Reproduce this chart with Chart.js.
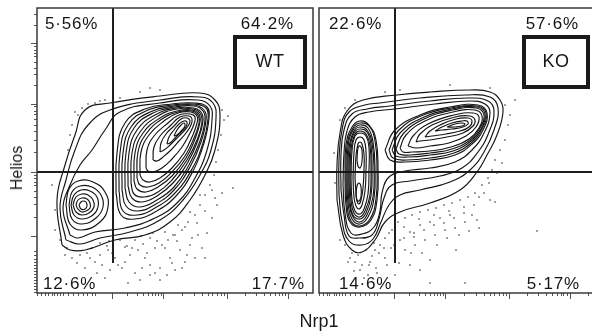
<!DOCTYPE html>
<html><head><meta charset="utf-8">
<script src="https://cdn.jsdelivr.net/npm/chart.js@4.4.1/dist/chart.umd.min.js"></script>
<style>
html,body{margin:0;padding:0;background:#fff;overflow:hidden;width:592px;height:333px;position:relative;}
#c1{position:absolute;left:0;top:0;}
#c2{position:absolute;left:316px;top:0;}
.lbl{position:absolute;font-family:"Liberation Sans",Arial,sans-serif;color:#1a1a1a;white-space:nowrap;line-height:1;}
</style></head><body>
<canvas id="c1" width="316" height="333"></canvas>
<canvas id="c2" width="282" height="333"></canvas>
<div class="lbl" id="ylab" style="left:17px;top:168px;font-size:16px;transform:translate(-50%,-50%) rotate(-90deg);"></div>
<div class="lbl" id="xlab" style="left:319px;top:321px;font-size:18px;transform:translate(-50%,-50%);"></div>
<script>
// ---- axis ranges (channel units) and gates ----
const xRange = [0, 276];
const yRange = [0, 285];
const gateX = 76, gateY = 121, gateXLow = 30;
const axisTitles = ['Nrp1', 'Helios'];

// ---- tick positions (channel units) ----
const xMinorTicks = [0,4,8,11,15,17,20,23,26,31,36,41,46,50,55,58,90,100,106,111,115,118,121,124,145,157,165,171,176,180,184,187,208,219,227,233,238,242,245,248,269];
const xMajorTicks = [75,126,190,251];
const yMinorTicks = [1,4,7,10,13,16,19,22,25,28,31,34,38,42,76,88,96,102,107,111,115,118,141,153,162,168,174,178,182,186,207,218,225,231,236,240,243,246,267,278];
const yMajorTicks = [57,121,189,249];

// ---- quadrant percentages and sample names ----
const wtPercents = ['5·56%','64·2%','12·6%','17·7%'];
const koPercents = ['22·6%','57·6%','14·6%','5·17%'];
const sampleNames = ['WT','KO'];

// ---- WT contour levels (Nrp1, Helios) ----
const wtContours = [
 [[25,48],[20,93],[28,128],[38,158],[48,183],[73,190],[123,197],[163,200],[178,193],[183,178],[178,143],[168,118],[153,93],[133,71],[108,58],[78,53],[48,43],[33,43]],
 [[29,53],[23,85],[29,113],[38,143],[51,168],[73,183],[123,193],[163,196],[176,190],[179,175],[174,143],[163,118],[146,93],[123,73],[93,61],[63,55],[43,49]],
 [[33,58],[26,85],[33,108],[43,128],[55,143],[68,163],[83,181],[123,190],[161,193],[173,187],[175,173],[170,143],[158,115],[141,91],[118,75],[88,65],[58,61],[41,55]],
 [[29,88],[32,104],[41,112],[56,111],[68,101],[71,86],[63,71],[45,63],[33,69]],
 [[32,88],[35,101],[43,107],[55,106],[64,98],[66,86],[59,75],[45,69],[35,74]],
 [[34,88],[37,98],[44,103],[53,102],[60,96],[61,86],[56,78],[45,74],[37,78]],
 [[36,88],[39,96],[45,99],[51,98],[56,93],[57,86],[52,80],[45,78],[39,81]],
 [[39,88],[41,93],[45,95],[50,94],[53,90],[53,85],[49,82],[45,81],[41,84]],
 [[42,88],[44,91],[46,92],[49,91],[50,87],[48,84],[44,84]],
 [[79,100],[80,140],[88,170],[108,184],[135,189],[158,190],[170,186],[172,175],[167,150],[156,122],[139,97],[118,81],[98,74],[84,78]],
 [[82,102],[83,140],[91,168],[111,183],[136,188],[157,189],[169,185],[171,174],[166,150],[155,124],[138,100],[118,85],[100,78],[86,82]],
 [[85,103],[86,140],[94,166],[113,181],[137,187],[157,188],[167,183],[169,173],[164,151],[153,126],[137,103],[119,89],[101,82],[89,87]],
 [[88,105],[89,140],[97,165],[116,180],[138,186],[157,187],[166,182],[168,173],[163,152],[152,128],[137,106],[120,93],[103,86],[92,91]],
 [[91,107],[92,140],[100,163],[118,178],[139,185],[156,185],[164,181],[166,172],[161,153],[151,131],[136,110],[120,97],[105,91],[95,95]],
 [[94,110],[95,140],[103,161],[121,177],[140,184],[156,184],[163,180],[165,171],[160,153],[150,133],[135,113],[121,101],[107,96],[97,99]],
 [[97,112],[98,140],[106,160],[123,175],[140,182],[155,183],[162,179],[163,171],[158,154],[149,135],[135,117],[121,106],[109,101],[100,104]],
 [[100,115],[101,141],[109,159],[125,174],[141,181],[155,182],[161,178],[162,170],[157,155],[148,137],[135,121],[122,110],[111,106],[103,108]],
 [[103,118],[104,141],[112,158],[127,172],[141,180],[154,181],[160,177],[160,170],[155,156],[147,140],[135,125],[123,115],[113,111],[106,113]],
 [[109,125],[110,143],[117,157],[131,170],[142,178],[153,179],[158,176],[157,169],[152,158],[145,146],[135,134],[125,125],[116,121],[111,122]],
 [[116,133],[117,146],[123,157],[134,168],[143,176],[152,177],[155,174],[154,168],[149,160],[142,152],[134,143],[126,136],[120,132]],
 [[123,141],[124,150],[129,159],[137,167],[144,174],[150,175],[153,172],[151,167],[146,161],[139,154],[132,147],[127,143]],
 [[130,149],[132,156],[137,163],[142,169],[147,172],[150,171],[149,166],[144,161],[138,155],[133,150]],
 [[137,157],[140,163],[144,168],[147,170],[148,167],[145,163],[140,158]]
];
const wtEvents = [[41,178],[45,185],[51,189],[58,190],[63,192],[35,168],[33,158],[31,143],[38,181],[68,193],[83,195],[103,201],[113,205],[123,203],
 [185,183],[187,173],[184,158],[181,143],[179,131],[177,118],[173,108],[168,98],[175,103],[191,177],
 [23,53],[18,63],[28,38],[35,35],[43,38],[53,35],[58,31],[63,38],[71,43],[78,35],[81,28],[88,31],[93,38],[101,43],[108,35],[113,28],[118,45],[125,48],[131,53],[138,58],[145,63],[151,71],[158,78],[163,88],[161,58],[153,48],[143,43],[133,35],[123,25],[113,18],[103,13],[91,10],[123,13],[138,23],[158,35],[148,31],[73,23],[68,15],[196,105],[168,35],[18,83],[15,108],
 [63,50],[83,53],[98,53],[113,55],[128,61],[141,68],[153,81],[163,98],[70,47],[90,47],[106,49],[120,52],[136,58],[148,66],[30,45],[50,40],[40,30],
 [55,45],[65,28],[75,40],[85,25],[95,45],[105,25],[110,40],[118,20],[128,45],[135,30],[145,25],[150,38],[155,55],[165,45],[170,60],[175,75],[180,88],[185,100],[60,20],[48,25],[98,20],[130,18],[88,46],[72,52],[116,60],[104,57],[140,52],[160,70],[168,82],[178,95]];

// ---- KO contour levels (Nrp1, Helios) ----
const koContours = [
 [[18,93],[18,128],[21,160],[28,182],[44,193],[78,198],[111,201],[151,203],[171,201],[181,193],[184,181],[178,158],[168,138],[158,121],[141,103],[111,90],[81,81],[66,71],[56,53],[43,41],[33,43],[24,58]],
 [[20,98],[20,133],[23,163],[30,181],[46,188],[61,190],[101,195],[146,198],[171,196],[179,185],[175,163],[165,141],[151,123],[131,111],[101,103],[81,98],[70,88],[62,71],[54,54],[43,48],[30,52],[23,72]],
 [[22,103],[22,138],[25,163],[33,179],[48,184],[71,187],[111,192],[149,195],[169,192],[175,182],[170,161],[159,141],[143,125],[121,117],[91,112],[73,108],[65,95],[60,74],[53,58],[40,55],[30,57],[25,78]],
 [[24,108],[25,140],[28,162],[36,176],[50,181],[76,184],[116,189],[151,192],[166,189],[171,180],[165,160],[153,143],[136,131],[111,125],[86,122],[70,116],[63,100],[61,82],[55,66],[43,59],[32,60],[26,80]],
 [[26,115],[27,148],[33,166],[41,172],[50,168],[57,153],[59,123],[58,93],[52,73],[41,66],[31,71],[27,88]],
 [[27,115],[28,147],[34,165],[41,170],[50,167],[56,152],[58,123],[57,94],[51,74],[41,67],[32,72],[28,89]],
 [[28,115],[29,146],[34,163],[41,168],[49,165],[54,151],[56,123],[55,95],[49,76],[41,69],[33,74],[29,90]],
 [[29,115],[30,145],[35,162],[41,166],[48,163],[53,150],[55,123],[54,96],[48,78],[41,71],[34,76],[30,91]],
 [[30,115],[31,144],[35,160],[41,164],[48,161],[52,148],[53,123],[52,97],[47,80],[41,74],[34,78],[31,92]],
 [[31,115],[32,143],[36,159],[41,162],[47,159],[51,147],[52,123],[51,98],[46,82],[41,76],[35,80],[32,93]],
 [[32,115],[33,142],[36,157],[41,160],[47,157],[50,145],[50,123],[49,99],[45,84],[41,79],[36,82],[33,94]],
 [[34,115],[35,140],[37,153],[41,156],[45,153],[47,142],[47,123],[46,102],[43,88],[40,84],[37,87],[35,96]],
 [[36,115],[37,137],[39,149],[41,151],[43,149],[45,139],[45,123],[44,105],[42,93],[40,89],[38,92],[37,100]],
 [[38,133],[39,145],[41,147],[43,143],[43,131],[41,125],[39,127]],
 [[37,98],[38,107],[40,110],[42,106],[42,96],[40,92],[38,93]],
 [[66,143],[76,163],[101,178],[131,186],[159,188],[168,180],[164,163],[153,149],[136,138],[111,133],[86,131],[71,133]],
 [[70,143],[79,162],[102,177],[132,185],[158,187],[167,180],[163,164],[152,150],[135,140],[111,135],[88,133],[74,135]],
 [[73,143],[81,160],[103,175],[133,184],[158,186],[166,179],[162,164],[152,152],[134,142],[111,138],[89,136],[77,137]],
 [[77,144],[84,159],[105,174],[134,183],[157,185],[165,178],[161,165],[151,153],[133,144],[111,140],[91,138],[80,139]],
 [[81,145],[87,158],[106,172],[134,181],[156,183],[163,177],[160,165],[150,154],[132,146],[111,142],[93,141],[84,141]],
 [[89,147],[94,157],[109,169],[135,178],[154,180],[160,176],[157,166],[147,157],[130,150],[111,147],[97,145]],
 [[97,151],[101,159],[113,168],[136,176],[151,177],[156,173],[154,167],[144,160],[128,156],[111,153],[101,152]],
 [[106,156],[111,162],[121,168],[137,174],[149,175],[153,172],[150,166],[141,162],[127,159],[113,157]],
 [[116,162],[123,166],[133,170],[143,172],[148,172],[149,169],[144,166],[133,164],[123,163]],
 [[128,166],[136,169],[143,170],[146,169],[143,167],[136,166]]
];
const koEvents = [[26,48],[31,35],[36,31],[43,28],[51,31],[56,43],[61,48],[66,55],[73,63],[79,71],[86,75],[93,78],[101,81],[109,83],[117,85],[125,88],[133,90],[141,93],[149,96],[156,100],[163,108],[169,115],[173,123],[176,133],[181,143],[186,153],[189,168],[191,178],[186,188],
 [41,23],[49,18],[57,25],[66,35],[76,38],[86,43],[96,48],[106,53],[116,58],[126,63],[136,65],[146,71],[153,78],[81,53],[91,61],[101,68],[111,71],[121,75],[131,78],[76,18],[91,28],[111,33],[101,23],[137,43],[158,73],[171,93],[218,62],[111,10],[146,10],
 [21,173],[26,185],[36,193],[66,201],[81,203],[131,208],[171,205],[196,193],[29,31],[39,38],[47,43],[21,53],[53,37],[176,91],[16,110],[15,140],[70,60],[85,66],[100,74],[115,78],[130,82],[145,86],[160,96],[60,40],[72,45],[95,56],
 [45,55],[55,50],[65,45],[75,48],[85,55],[95,60],[105,63],[115,68],[125,70],[135,75],[145,80],[155,88],[165,100],[170,110],[178,120],[183,130],[58,20],[68,28],[80,30],[92,40],[103,40],[118,48],[128,55],[140,58],[150,62],[160,65],[35,22],[45,15],[33,40],[50,28]];

// ---- helpers ----
function ringDataset(ring){
  const pts = ring.map(p => ({x:p[0], y:p[1]}));
  pts.push({x:ring[0][0], y:ring[0][1]});
  return {data:pts, showLine:true, pointRadius:0, pointHoverRadius:0, borderColor:'#151515', backgroundColor:'#151515', borderWidth:1.15, tension:0.45, fill:false};
}
function axisCfg(position, values, len, size, weight, range){
  return {
    type:'linear', position, min:range[0], max:range[1], weight, display:true,
    afterBuildTicks(s){ s.ticks = values.map(v => ({value:v})); },
    afterFit(s){ if (position === 'bottom' || position === 'top') s.height = size; else s.width = size; },
    ticks:{display:false},
    grid:{drawOnChartArea:false, drawTicks:true, tickLength:len, color:'#555', tickColor:'#555', lineWidth:1, tickWidth:1},
    border:{display:false}
  };
}
function panelPlugin(labels, name, lay){
  return {id:'panelDecor', afterDatasetsDraw(chart){
    const ctx = chart.ctx, a = chart.chartArea;
    ctx.save();
    ctx.strokeStyle = '#3a3a3a'; ctx.lineWidth = 1.5;
    ctx.strokeRect(a.left, a.top, a.right - a.left, a.bottom - a.top);
    ctx.fillStyle = '#151515';
    ctx.font = '17px "Liberation Sans", Arial, sans-serif';
    try { ctx.letterSpacing = '0.8px'; } catch(e) {}
    ctx.textBaseline = 'alphabetic';
    ctx.textAlign = 'left';  ctx.fillText(labels[0], a.left + lay.tl, a.top + 21);
    ctx.textAlign = 'right'; ctx.fillText(labels[1], a.right - lay.tr, a.top + 21);
    ctx.textAlign = 'left';  ctx.fillText(labels[2], a.left + lay.bl, a.bottom - 4);
    ctx.textAlign = 'right'; ctx.fillText(labels[3], a.right - lay.br, a.bottom - 4);
    ctx.lineWidth = 4; ctx.strokeStyle = '#1a1a1a';
    ctx.strokeRect(a.left + lay.bx, a.top + 29, lay.bw, 50);
    ctx.font = '18px "Liberation Sans", Arial, sans-serif';
    try { ctx.letterSpacing = '0.5px'; } catch(e) {}
    ctx.textAlign = 'center'; ctx.textBaseline = 'middle';
    ctx.fillText(name, a.left + lay.bx + lay.bw / 2, a.top + 54);
    ctx.restore();
  }};
}
function makeChart(id, contours, events, labels, name, lay, showY){
  const ds = contours.map(ringDataset);
  ds.push({data:events.map(p => ({x:p[0], y:p[1]})), showLine:false, pointRadius:0.8, pointHoverRadius:0,
           pointBackgroundColor:'#222', pointBorderWidth:0, borderColor:'#222', backgroundColor:'#222'});
  ds.push({data:[{x:gateX, y:gateXLow}, {x:gateX, y:yRange[1]}], showLine:true, pointRadius:0, borderColor:'#1e1e1e', borderWidth:2, tension:0});
  ds.push({data:[{x:xRange[0], y:gateY}, {x:xRange[1], y:gateY}], showLine:true, pointRadius:0, borderColor:'#1e1e1e', borderWidth:2, tension:0});
  const scales = {
    x: axisCfg('bottom', xMinorTicks, 3, 40, 1, xRange),
    xMajor: axisCfg('bottom', xMajorTicks, 6, 0, 0, xRange)
  };
  if (showY) {
    scales.y = axisCfg('left', yMinorTicks, 3, 37, 1, yRange);
    scales.yMajor = axisCfg('left', yMajorTicks, 6, 0, 0, yRange);
  } else {
    scales.y = {type:'linear', min:yRange[0], max:yRange[1], display:false};
  }
  return new Chart(document.getElementById(id), {
    type:'scatter',
    data:{datasets:ds},
    options:{
      responsive:false, animation:false, devicePixelRatio:1, events:[],
      layout:{padding: showY ? {top:8, right:3, left:0, bottom:0} : {top:8, left:3, right:3, bottom:0}},
      plugins:{legend:{display:false}, tooltip:{enabled:false}},
      scales
    },
    plugins:[panelPlugin(labels, name, lay)]
  });
}

makeChart('c1', wtContours, wtEvents, wtPercents, sampleNames[0], {tl:8, tr:19, bl:6, br:8, bx:198, bw:70}, true);
makeChart('c2', koContours, koEvents, koPercents, sampleNames[1], {tl:10, tr:16, bl:20, br:15, bx:205, bw:64}, false);
document.getElementById('xlab').textContent = axisTitles[0];
document.getElementById('ylab').textContent = axisTitles[1];
</script>
</body></html>
